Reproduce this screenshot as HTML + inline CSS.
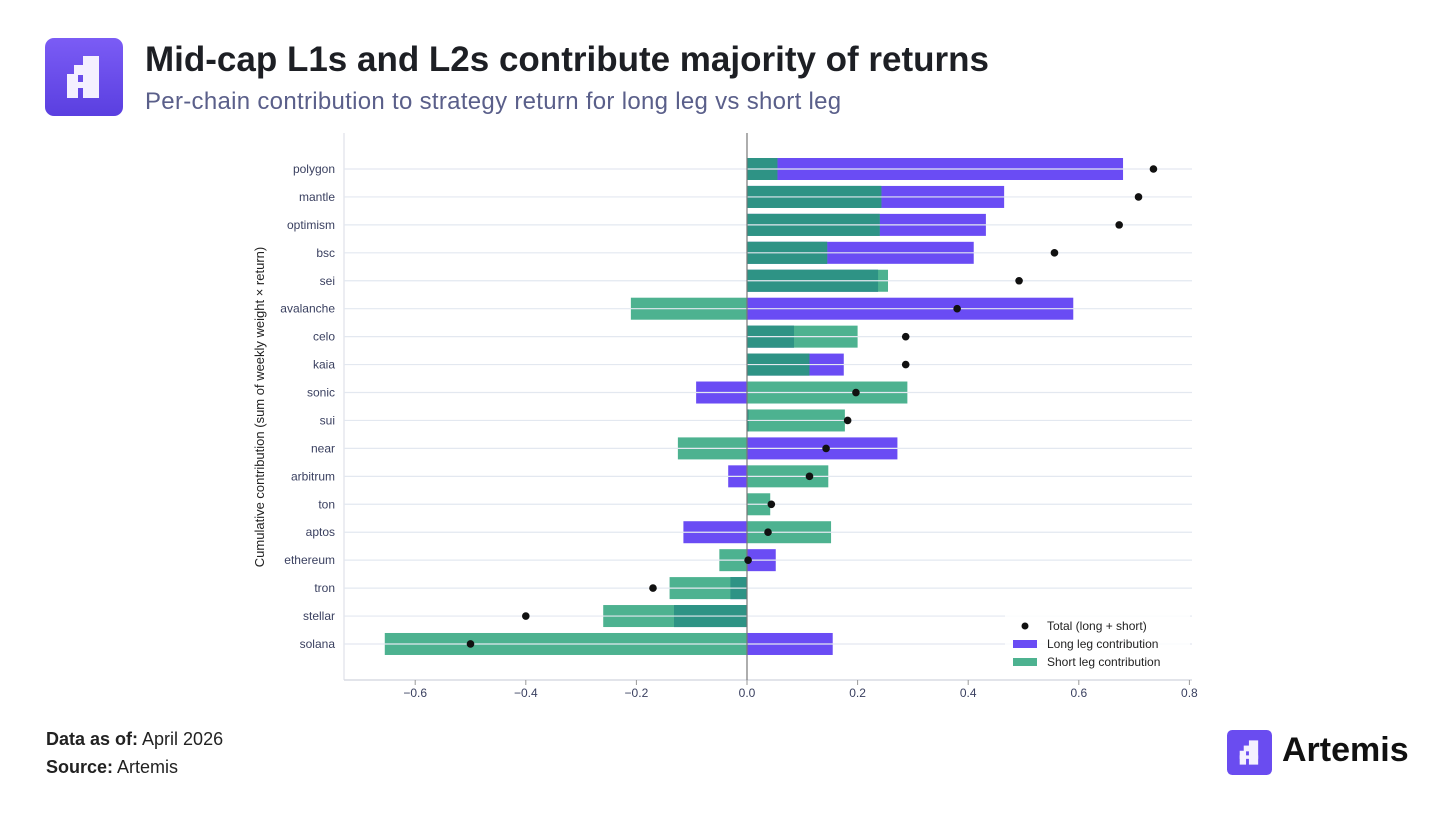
<!DOCTYPE html>
<html><head><meta charset="utf-8"><style>
body{margin:0;background:#fff;width:1456px;height:819px;overflow:hidden;font-family:"Liberation Sans",sans-serif;}
.abs{position:absolute}
</style></head><body>
<div class="abs" style="left:0;top:0;width:1456px;height:819px">
<svg class="abs" style="left:45px;top:38px" width="78" height="78" viewBox="0 0 78 78">
<defs><linearGradient id="lg" x1="0" y1="0" x2="0" y2="1"><stop offset="0" stop-color="#7b5cf5"/><stop offset="1" stop-color="#5a3fe0"/></linearGradient></defs>
<rect width="78" height="78" rx="9" fill="url(#lg)"/>
<g fill="#f4f0ff"><rect x="38" y="18" width="16" height="42"/><rect x="29" y="27" width="12" height="10"/><rect x="22" y="36" width="11" height="24"/><rect x="22" y="44" width="32" height="6"/></g>
</svg>
<div class="abs" style="left:145px;top:40px;font-size:35px;font-weight:bold;color:#1d1f24">Mid-cap L1s and L2s contribute majority of returns</div>
<div class="abs" style="left:145px;top:88px;font-size:24px;letter-spacing:0.3px;color:#5a5f8a">Per-chain contribution to strategy return for long leg vs short leg</div>
<svg class="abs" style="left:0;top:0" width="1456" height="819" id="chart"></svg>
<div class="abs" style="left:46px;top:729px;font-size:18px;color:#222"><b>Data as of:</b> April 2026</div>
<div class="abs" style="left:46px;top:757px;font-size:18px;color:#222"><b>Source:</b> Artemis</div>
<svg class="abs" style="left:1227px;top:730px" width="45" height="45" viewBox="0 0 78 78">
<rect width="78" height="78" rx="9" fill="#6a4cf0"/>
<g fill="#f4f0ff"><rect x="38" y="18" width="16" height="42"/><rect x="29" y="27" width="12" height="10"/><rect x="22" y="36" width="11" height="24"/><rect x="22" y="44" width="32" height="6"/></g>
</svg>
<div class="abs" style="left:1282px;top:731px;font-size:34px;font-weight:bold;color:#111">Artemis</div>
</div>
<script>
const categories=["polygon","mantle","optimism","bsc","sei","avalanche","celo","kaia","sonic","sui","near","arbitrum","ton","aptos","ethereum","tron","stellar","solana"];
const longVals=[0.68,0.465,0.432,0.41,0.237,0.59,0.085,0.175,-0.092,0.003,0.272,-0.034,0.0,-0.115,0.052,-0.03,-0.132,0.155];
const shortVals=[0.055,0.243,0.24,0.145,0.255,-0.21,0.2,0.113,0.29,0.177,-0.125,0.147,0.042,0.152,-0.05,-0.14,-0.26,-0.655];
const totals=[0.735,0.708,0.673,0.556,0.492,0.38,0.287,0.287,0.197,0.182,0.143,0.113,0.044,0.038,0.002,-0.17,-0.4,-0.5];
const xTicks=[-0.6,-0.4,-0.2,0.0,0.2,0.4,0.6,0.8];
const xTickLabels=["−0.6","−0.4","−0.2","0.0","0.2","0.4","0.6","0.8"];
const NS="http://www.w3.org/2000/svg";
const svg=document.getElementById('chart');
const X=v=>747+v*553;
const Y=i=>169+i*27.94;
const BH=22;
function mk(t,a){const e=document.createElementNS(NS,t);for(const k in a)e.setAttribute(k,a[k]);svg.appendChild(e);return e;}
let s=mk('line',{x1:344,y1:133,x2:344,y2:680,stroke:'#d8dbe4','stroke-width':1});


s=mk('line',{x1:344,y1:680,x2:1192,y2:680,stroke:'#d8dbe4','stroke-width':1.5});


xTicks.forEach((t,i)=>{
 const tk=mk('line',{x1:X(t),y1:680,x2:X(t),y2:685,stroke:'#999'});
 
 
 const tl=mk('text',{x:X(t),y:697,'text-anchor':'middle','font-size':12,fill:'#3a4060'});
 tl.textContent=xTickLabels[i];
 
 
});
const yt=mk('text',{x:0,y:0,'text-anchor':'middle','font-size':13,fill:'#222',transform:'translate(264,407) rotate(-90)'});
yt.textContent='Cumulative contribution (sum of weekly weight × return)';


function bar(a,b,y,c,name){
 const x0=X(Math.min(a,b)),x1=X(Math.max(a,b));
 if(x1-x0<0.3)return;
 const r=mk('rect',{x:x0,y:y-BH/2,width:x1-x0,height:BH,fill:c});
 
 
}
categories.forEach((c,i)=>{
 const y=Y(i);
 const lbl=mk('text',{x:335,y:y+4,'text-anchor':'end','font-size':12,fill:'#3a4060'});
 lbl.textContent=c;
 
 
 const L=longVals[i],S=shortVals[i];
 bar(0,L,y,'#6a4cf4','long-bar-'+c);
 bar(0,S,y,'#4db290','short-bar-'+c);
 if(L*S>0){const o=Math.sign(L)*Math.min(Math.abs(L),Math.abs(S));bar(0,o,y,'#2e9385','overlap-bar-'+c);}
 const g=mk('line',{x1:344,y1:y,x2:1192,y2:y,stroke:'#e3e8f0','stroke-width':1.2});
 
 
});
const z=mk('line',{x1:747,y1:133,x2:747,y2:680,stroke:'#777','stroke-width':1.2});


categories.forEach((c,i)=>{
 const d=mk('circle',{cx:X(totals[i]),cy:Y(i),r:3.8,fill:'#111'});
 
 
});
const lg=[['dot','#111','Total (long + short)'],['rect','#6a4cf4','Long leg contribution'],['rect','#4db290','Short leg contribution']];
const lbg=mk('rect',{x:1005,y:615,width:185,height:58,fill:'#fff',opacity:0.85});


lg.forEach((e,i)=>{
 const y=626+i*18;
 let m;
 if(e[0]=='dot')m=mk('circle',{cx:1025,cy:y,r:3.5,fill:e[1]});
 else m=mk('rect',{x:1013,y:y-4,width:24,height:8,fill:e[1]});
 
 
 const t=mk('text',{x:1047,y:y+4,'font-size':12,fill:'#222'});
 t.textContent=e[2];
 
 
});
</script>
</body></html>
